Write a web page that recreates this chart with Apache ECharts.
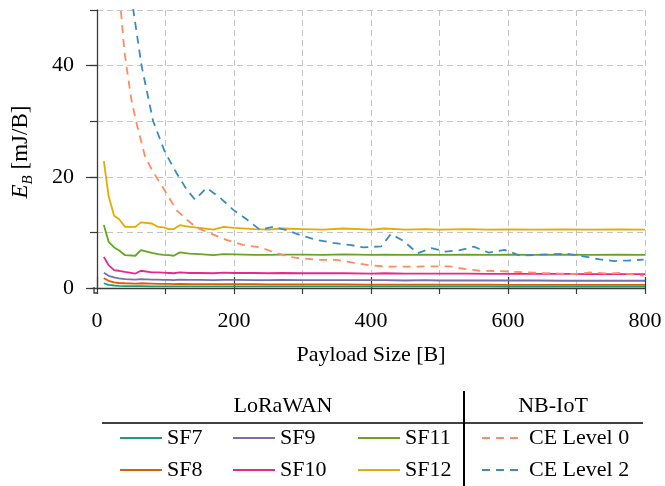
<!DOCTYPE html>
<html>
<head>
<meta charset="utf-8">
<script src="https://cdn.jsdelivr.net/npm/echarts@6/dist/echarts.min.js"></script>
<style>html,body{margin:0;padding:0;background:#fff}#c{width:665px;height:486px}</style>
</head>
<body>
<div id="c"></div>
<script>
// ---- data ----
var loraX = [10, 17, 25, 32, 41, 56, 64, 80, 89, 97, 105, 112, 121, 135, 150, 170, 185, 200, 230, 250, 270, 300, 330, 360, 400, 420, 450, 480, 500, 540, 570, 600, 640, 680, 720, 760, 800];
var sf7  = [0.85, 0.55, 0.45, 0.4, 0.35, 0.35, 0.35, 0.3, 0.3, 0.3, 0.3, 0.3, 0.3, 0.3, 0.3, 0.3, 0.3, 0.3, 0.3, 0.3, 0.3, 0.3, 0.3, 0.3, 0.28, 0.28, 0.28, 0.28, 0.28, 0.28, 0.28, 0.25, 0.25, 0.25, 0.25, 0.25, 0.25];
var sf8  = [1.75, 1.3, 1.0, 0.9, 0.85, 0.8, 0.85, 0.8, 0.75, 0.75, 0.75, 0.7, 0.75, 0.7, 0.7, 0.7, 0.7, 0.7, 0.7, 0.65, 0.65, 0.65, 0.65, 0.65, 0.6, 0.6, 0.6, 0.6, 0.6, 0.6, 0.6, 0.55, 0.55, 0.55, 0.55, 0.55, 0.55];
var sf9  = [2.75, 2.2, 1.9, 1.75, 1.6, 1.5, 1.6, 1.5, 1.5, 1.45, 1.45, 1.4, 1.5, 1.45, 1.45, 1.4, 1.45, 1.45, 1.4, 1.4, 1.45, 1.4, 1.4, 1.4, 1.4, 1.4, 1.35, 1.4, 1.35, 1.35, 1.35, 1.35, 1.35, 1.3, 1.3, 1.3, 1.3];
var sf10 = [5.6, 4.1, 3.2, 3.1, 2.9, 2.6, 3.1, 2.8, 2.8, 2.75, 2.7, 2.65, 2.8, 2.7, 2.7, 2.65, 2.75, 2.7, 2.7, 2.65, 2.7, 2.65, 2.65, 2.65, 2.6, 2.65, 2.6, 2.6, 2.6, 2.6, 2.55, 2.55, 2.55, 2.55, 2.5, 2.5, 2.5];
var sf11 = [11.35, 8.3, 7.3, 6.8, 5.9, 5.8, 6.8, 6.3, 6.1, 5.95, 5.9, 5.8, 6.4, 6.2, 6.1, 5.9, 6.1, 6.05, 5.95, 5.95, 6.0, 6.0, 5.95, 6.05, 5.95, 6.0, 5.95, 6.0, 5.95, 6.0, 5.95, 6.0, 5.95, 6.0, 5.95, 6.0, 5.95];
var sf12 = [22.8, 16.5, 13.0, 12.4, 11.0, 11.0, 11.8, 11.6, 11.0, 10.9, 10.6, 10.6, 11.3, 11.0, 10.8, 10.5, 11.0, 10.8, 10.6, 10.5, 10.7, 10.6, 10.5, 10.7, 10.5, 10.7, 10.5, 10.6, 10.5, 10.6, 10.5, 10.55, 10.5, 10.55, 10.5, 10.55, 10.5];

var ce0X = [20, 30, 40, 50, 57, 70, 80, 92, 104, 116, 131, 145, 165, 189, 213, 238, 257, 279, 296, 325, 350, 374, 398, 423, 462, 486, 515, 530, 559, 583, 603, 627, 651, 676, 695, 720, 744, 763, 798];
var ce0  = [85, 57, 42.5, 34, 30, 23.7, 21.3, 18.9, 16.5, 14, 12.3, 10.9, 9.85, 8.65, 7.75, 7.3, 6.5, 5.65, 5.35, 5.05, 5.05, 4.55, 4.1, 3.85, 3.85, 3.9, 3.9, 3.55, 3.1, 3.05, 2.95, 2.8, 2.7, 2.6, 2.5, 2.8, 2.6, 2.7, 2.2];
var ce2X = [30, 40, 53, 65, 82, 99, 116, 131, 143, 160, 180, 199, 218, 238, 257, 277, 296, 321, 345, 369, 389, 415, 429, 447, 468, 488, 509, 530, 550, 572, 595, 617, 640, 665, 687, 710, 734, 755, 776, 798];
var ce2  = [88, 66, 50, 40, 30, 24.5, 20.7, 17.7, 15.9, 18.0, 16.2, 14.05, 12.4, 10.45, 11.0, 10.4, 9.55, 8.65, 8.1, 7.75, 7.3, 7.5, 9.7, 8.5, 6.25, 7.15, 6.55, 6.8, 7.45, 6.35, 6.85, 5.85, 5.95, 6.1, 6.15, 5.7, 5.15, 4.85, 4.95, 5.1];

var xTickLabels = [0, 200, 400, 600, 800];
var yTickLabels = [0, 20, 40];

// ---- chart ----
var FONT = 'Liberation Serif';
function pairs(xs, ys) { return xs.map(function (x, i) { return [x, ys[i]]; }); }
function lineSeries(name, xs, ys, color, dashed) {
  return {
    name: name, type: 'line', data: pairs(xs, ys), xAxisIndex: 0, yAxisIndex: 0,
    symbol: 'none', showSymbol: false, clip: true, silent: true, animation: false,
    lineStyle: { color: color, width: 1.8, type: dashed ? [8, 6] : 'solid' },
    itemStyle: { color: color }
  };
}
var axisColor = '#3a3a3a';
var grid = { left: 97, right: 20, top: 10, bottom: 198 };
var chart = echarts.init(document.getElementById('c'), null, { renderer: 'canvas' });

// legend placement (one single-item legend per table cell)
var legendCells = [
  ['SF7', 119, 427], ['SF8', 119, 459],
  ['SF9', 232, 427], ['SF10', 232, 459],
  ['SF11', 357, 427], ['SF12', 357, 459],
  ['CE Level 0', 481, 427], ['CE Level 2', 481, 459]
];
var legends = legendCells.map(function (c) {
  return {
    data: [c[0]], left: c[1], top: c[2], orient: 'horizontal', padding: 0,
    itemWidth: 42, itemHeight: 14, itemGap: 0, selectedMode: false,
    itemStyle: { opacity: 0, borderWidth: 0 },
    textStyle: { fontFamily: FONT, fontSize: 22, color: '#000' }
  };
});

chart.setOption({
  animation: false,
  backgroundColor: '#fff',
  grid: grid,
  xAxis: [{
    type: 'value', min: 0, max: 800, interval: 100, offset: 5,
    axisLine: { show: true, lineStyle: { color: axisColor, width: 1.3 } },
    axisTick: { show: true, length: 6, lineStyle: { color: axisColor, width: 1.2 } },
    axisLabel: { customValues: xTickLabels, margin: 17, fontFamily: FONT, fontSize: 22, color: '#000' },
    splitLine: { show: true, lineStyle: { color: '#c4c4c4', width: 1, type: [6, 4] } },
    name: 'Payload Size [B]', nameLocation: 'middle', nameGap: 51,
    nameTextStyle: { fontFamily: FONT, fontSize: 22, color: '#000' }
  }, {
    type: 'value', min: 0, max: 800, interval: 200, offset: 5,
    axisLine: { show: false },
    axisTick: { show: true, length: 11, lineStyle: { color: axisColor, width: 1.2 } },
    axisLabel: { show: false }, splitLine: { show: false }
  }],
  yAxis: [{
    type: 'value', min: 0, max: 50, interval: 10, offset: 3,
    axisLine: { show: true, lineStyle: { color: axisColor, width: 1.3 } },
    axisTick: { show: true, length: 7, lineStyle: { color: axisColor, width: 1.2 } },
    axisLabel: { customValues: yTickLabels, margin: 20, fontFamily: FONT, fontSize: 22, color: '#000' },
    splitLine: { show: true, lineStyle: { color: '#c4c4c4', width: 1, type: [6, 4] } }
  }, {
    type: 'value', min: 0, max: 50, offset: 3, position: 'left',
    axisLine: { show: false },
    axisTick: { show: true, length: 11, customValues: yTickLabels, lineStyle: { color: axisColor, width: 1.2 } },
    axisLabel: { show: false }, splitLine: { show: false }
  }],
  legend: legends,
  series: [
    lineSeries('SF7', loraX, sf7, '#1b9e77', false),
    lineSeries('SF8', loraX, sf8, '#d95f02', false),
    lineSeries('SF9', loraX, sf9, '#7570b3', false),
    lineSeries('SF10', loraX, sf10, '#e7298a', false),
    lineSeries('SF11', loraX, sf11, '#66a61e', false),
    lineSeries('SF12', loraX, sf12, '#e6ab02', false),
    lineSeries('CE Level 0', ce0X, ce0, '#fc8d62', true),
    lineSeries('CE Level 2', ce2X, ce2, '#3a8cc4', true)
  ],
  graphic: [
    { type: 'polyline', silent: true, shape: { points: [[94, 287], [94, 293], [98, 293]] },
      style: { stroke: axisColor, lineWidth: 1.3, fill: null } },
    { type: 'text', silent: true, x: 21, y: 152, rotation: Math.PI / 2,
      style: {
        text: '{e|E}{s|B}{n| [mJ/B]}', align: 'center', verticalAlign: 'middle',
        rich: {
          e: { fontFamily: FONT, fontStyle: 'italic', fontSize: 23, lineHeight: 30, verticalAlign: 'middle', fill: '#000' },
          s: { fontFamily: FONT, fontStyle: 'italic', fontSize: 15, lineHeight: 15, verticalAlign: 'bottom', fill: '#000' },
          n: { fontFamily: FONT, fontSize: 23, lineHeight: 30, verticalAlign: 'middle', fill: '#000' }
        }
      } },
    { type: 'text', silent: true, x: 283, y: 406,
      style: { text: 'LoRaWAN', fontFamily: FONT, fontSize: 22, fill: '#000', align: 'center', verticalAlign: 'middle' } },
    { type: 'text', silent: true, x: 553, y: 406,
      style: { text: 'NB-IoT', fontFamily: FONT, fontSize: 22, fill: '#000', align: 'center', verticalAlign: 'middle' } },
    { type: 'line', silent: true, shape: { x1: 102, y1: 423, x2: 643, y2: 423 },
      style: { stroke: '#000', lineWidth: 1.5 } },
    { type: 'line', silent: true, shape: { x1: 464, y1: 391, x2: 464, y2: 486 },
      style: { stroke: '#000', lineWidth: 2 } }
  ]
});
</script>
</body>
</html>
